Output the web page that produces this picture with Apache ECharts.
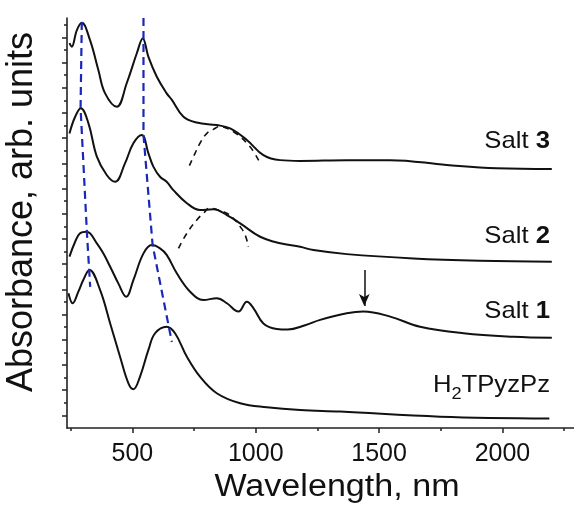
<!DOCTYPE html>
<html><head><meta charset="utf-8">
<script src="https://cdn.jsdelivr.net/npm/echarts@6/dist/echarts.min.js"></script>
<style>html,body{margin:0;padding:0;background:#fff}#c{width:574px;height:506px}</style>
</head><body><div id="c"></div>
<script>
// ---- data (wavelength in nm, absorbance in arbitrary offset units) ----
const wlSalt3  = [245, 254, 275, 295, 328, 362, 389, 437, 477, 518, 542, 565, 599, 639, 660, 707, 761, 842, 896, 964, 1031, 1099, 1180, 1369, 1545, 1774, 1977, 2200];
const absSalt3 = [15.27, 15.13, 15.79, 16.08, 15.40, 14.21, 13.29, 12.75, 13.68, 14.87, 15.46, 14.73, 13.94, 13.28, 13.02, 12.35, 12.12, 12.02, 11.89, 11.43, 10.83, 10.63, 10.60, 10.63, 10.63, 10.44, 10.31, 10.28];

const wlSalt2  = [245, 268, 291, 322, 356, 396, 430, 470, 504, 538, 565, 585, 612, 639, 666, 721, 774, 828, 883, 937, 1018, 1099, 1180, 1234, 1369, 1639, 1909, 2200];
const absSalt2 = [11.69, 12.35, 12.69, 12.09, 10.77, 10.04, 9.77, 10.50, 11.30, 11.63, 10.90, 10.37, 9.97, 9.77, 9.44, 8.92, 8.65, 8.68, 8.45, 8.12, 7.59, 7.33, 7.19, 7.06, 6.90, 6.73, 6.64, 6.60];

const wlSalt1  = [245, 268, 288, 315, 356, 382, 410, 443, 475, 504, 545, 579, 612, 639, 680, 734, 788, 842, 883, 930, 964, 991, 1031, 1085, 1130, 1200, 1261, 1369, 1436, 1545, 1666, 1842, 2044, 2200];
const absSalt1 = [6.80, 7.39, 7.73, 7.79, 7.33, 6.93, 6.40, 5.74, 5.21, 5.87, 6.93, 7.26, 7.13, 6.87, 6.14, 5.41, 5.08, 5.15, 4.95, 4.62, 5.01, 4.75, 4.15, 3.93, 3.91, 4.08, 4.29, 4.55, 4.62, 4.42, 4.02, 3.76, 3.62, 3.58];

const wlH2  = [241, 258, 281, 301, 326, 369, 410, 450, 484, 504, 531, 565, 592, 639, 673, 721, 774, 842, 937, 1045, 1180, 1342, 1747, 2190];
const absH2 = [5.35, 4.95, 5.41, 5.87, 6.27, 5.48, 4.15, 2.83, 1.77, 1.54, 2.04, 3.10, 3.76, 4.02, 3.76, 2.83, 2.04, 1.38, 0.98, 0.82, 0.71, 0.65, 0.45, 0.38];

const wlBand3  = [731, 754, 774, 802, 828, 856, 883, 909, 937, 964, 991, 1018];
const absBand3 = [10.41, 10.90, 11.30, 11.69, 11.85, 11.96, 11.89, 11.76, 11.56, 11.30, 10.97, 10.50];
const wlBand2  = [687, 721, 761, 788, 815, 849, 883, 909, 937, 957, 970];
const absBand2 = [7.13, 7.73, 8.25, 8.52, 8.72, 8.65, 8.52, 8.32, 7.99, 7.66, 7.19];

const wlGuideSoret  = [295, 290, 316, 329];
const absGuideSoret = [16.11, 12.70, 7.70, 5.60];
const wlGuideQ  = [545, 545, 582, 660];
const absGuideQ = [16.27, 11.63, 7.26, 3.41];

const arrowWl = 1440;
const arrowAbs = [6.27, 4.84];

const xMajorTicks = [500, 1000, 1500, 2000];
const xMinorTicks = [250, 750, 1250, 1750, 2250];
const yLongTicks  = [0.5, 1.5, 2.5, 3.5, 4.5, 5.5, 6.5, 7.5, 8.5, 9.5, 10.5, 11.5, 12.5, 13.5, 14.5, 15.5];
const yShortTicks = [1, 2, 3, 4, 5, 6, 7, 8, 9, 10, 11, 12, 13, 14, 15, 16];

const xTitle = 'Wavelength, nm';
const yTitle = 'Absorbance, arb. units';

// ---- chart ----
function zip(a, b) { return a.map((v, i) => [v, b[i]]); }
const FONT = '"Liberation Sans", Arial, sans-serif';
const INK = '#111';
const AXIS = '#222';
const X_MIN = 235, X_MAX = 2290, Y_MIN = 0, Y_MAX = 16.27;

function curve(name, wl, ab, extra) {
  return Object.assign({
    name, type: 'line', data: zip(wl, ab), smooth: 0.4, symbol: 'none',
    lineStyle: { color: INK, width: 2 }, silent: true, z: 3
  }, extra || {});
}

const chart = echarts.init(document.getElementById('c'));
chart.setOption({
  animation: false,
  backgroundColor: '#fff',
  grid: { left: 67, right: 0, top: 18, bottom: 78, containLabel: false, outerBoundsMode: 'none' },
  xAxis: [
    { type: 'value', min: X_MIN, max: X_MAX, position: 'bottom',
      axisLine: { show: true, lineStyle: { color: AXIS, width: 1.6 } },
      axisTick: { show: true, customValues: xMajorTicks, length: 5, lineStyle: { color: AXIS, width: 1.5 } },
      axisLabel: { show: true, customValues: xMajorTicks, formatter: v => String(v), fontSize: 25, fontFamily: FONT, color: INK, margin: 14 },
      splitLine: { show: false } },
    { type: 'value', min: X_MIN, max: X_MAX, position: 'bottom', offset: 0,
      axisLine: { show: false },
      axisTick: { show: true, customValues: xMinorTicks, length: 3, lineStyle: { color: AXIS, width: 1.5 } },
      axisLabel: { show: false }, splitLine: { show: false } }
  ],
  yAxis: [
    { type: 'value', min: Y_MIN, max: Y_MAX, position: 'left',
      axisLine: { show: true, lineStyle: { color: AXIS, width: 1.6 } },
      axisTick: { show: true, customValues: yShortTicks, length: 3, lineStyle: { color: AXIS, width: 1.5 } },
      axisLabel: { show: false }, splitLine: { show: false } },
    { type: 'value', min: Y_MIN, max: Y_MAX, position: 'left', offset: 0,
      axisLine: { show: false },
      axisTick: { show: true, customValues: yLongTicks, length: 5, lineStyle: { color: AXIS, width: 1.5 } },
      axisLabel: { show: false }, splitLine: { show: false } }
  ],
  series: [
    curve('Salt 3', wlSalt3, absSalt3),
    curve('Salt 2', wlSalt2, absSalt2),
    curve('Salt 1', wlSalt1, absSalt1, {
      markLine: {
        silent: true, symbol: ['none', 'arrow'], symbolSize: [8, 12],
        label: { show: false },
        lineStyle: { color: INK, width: 1.5, type: 'solid' },
        data: [[ { coord: [arrowWl, arrowAbs[0]] }, { coord: [arrowWl, arrowAbs[1]] } ]]
      }
    }),
    curve('H2TPyzPz', wlH2, absH2),
    curve('band3', wlBand3, absBand3, { smooth: 0.5, lineStyle: { color: INK, width: 1.6, type: [6, 5] } }),
    curve('band2', wlBand2, absBand2, { smooth: 0.5, lineStyle: { color: INK, width: 1.6, type: [6, 5] } }),
    curve('guide1', wlGuideSoret, absGuideSoret, { smooth: false, z: 4, lineStyle: { color: '#1a28b8', width: 2.2, type: [8, 5] } }),
    curve('guide2', wlGuideQ, absGuideQ, { smooth: false, z: 4, lineStyle: { color: '#1a28b8', width: 2.2, type: [8, 5] } })
  ],
  graphic: [
    { type: 'text', x: 22, y: 212, rotation: Math.PI / 2,
      style: { text: yTitle, fontSize: 36, fontFamily: FONT, fill: INK, align: 'center', verticalAlign: 'middle' } },
    { type: 'text', x: 337, y: 487, scaleX: 1.1,
      style: { text: xTitle, fontSize: 31, fontFamily: FONT, fill: INK, align: 'center', verticalAlign: 'middle' } },
    { type: 'text', x: 550, y: 141, scaleX: 1.07,
      style: { text: 'Salt {b|3}', fontSize: 24, fontFamily: FONT, fill: INK, align: 'right', verticalAlign: 'middle',
               rich: { b: { fontSize: 24, fontFamily: FONT, fontWeight: 'bold', fill: INK } } } },
    { type: 'text', x: 550, y: 236, scaleX: 1.07,
      style: { text: 'Salt {b|2}', fontSize: 24, fontFamily: FONT, fill: INK, align: 'right', verticalAlign: 'middle',
               rich: { b: { fontSize: 24, fontFamily: FONT, fontWeight: 'bold', fill: INK } } } },
    { type: 'text', x: 550, y: 311, scaleX: 1.07,
      style: { text: 'Salt {b|1}', fontSize: 24, fontFamily: FONT, fill: INK, align: 'right', verticalAlign: 'middle',
               rich: { b: { fontSize: 24, fontFamily: FONT, fontWeight: 'bold', fill: INK } } } },
    { type: 'text', x: 550, y: 385, scaleX: 1.07,
      style: { text: '{n|H}{s|2}{n|TPyzPz}', fontSize: 24, fontFamily: FONT, fill: INK, align: 'right', verticalAlign: 'middle',
               rich: {
                 n: { fontSize: 24, lineHeight: 24, fontFamily: FONT, fill: INK, verticalAlign: 'top' },
                 s: { fontSize: 17, lineHeight: 17, fontFamily: FONT, fill: INK, verticalAlign: 'top', padding: [13, 0, 0, 0] }
               } } }
  ]
});
</script>
</body></html>
